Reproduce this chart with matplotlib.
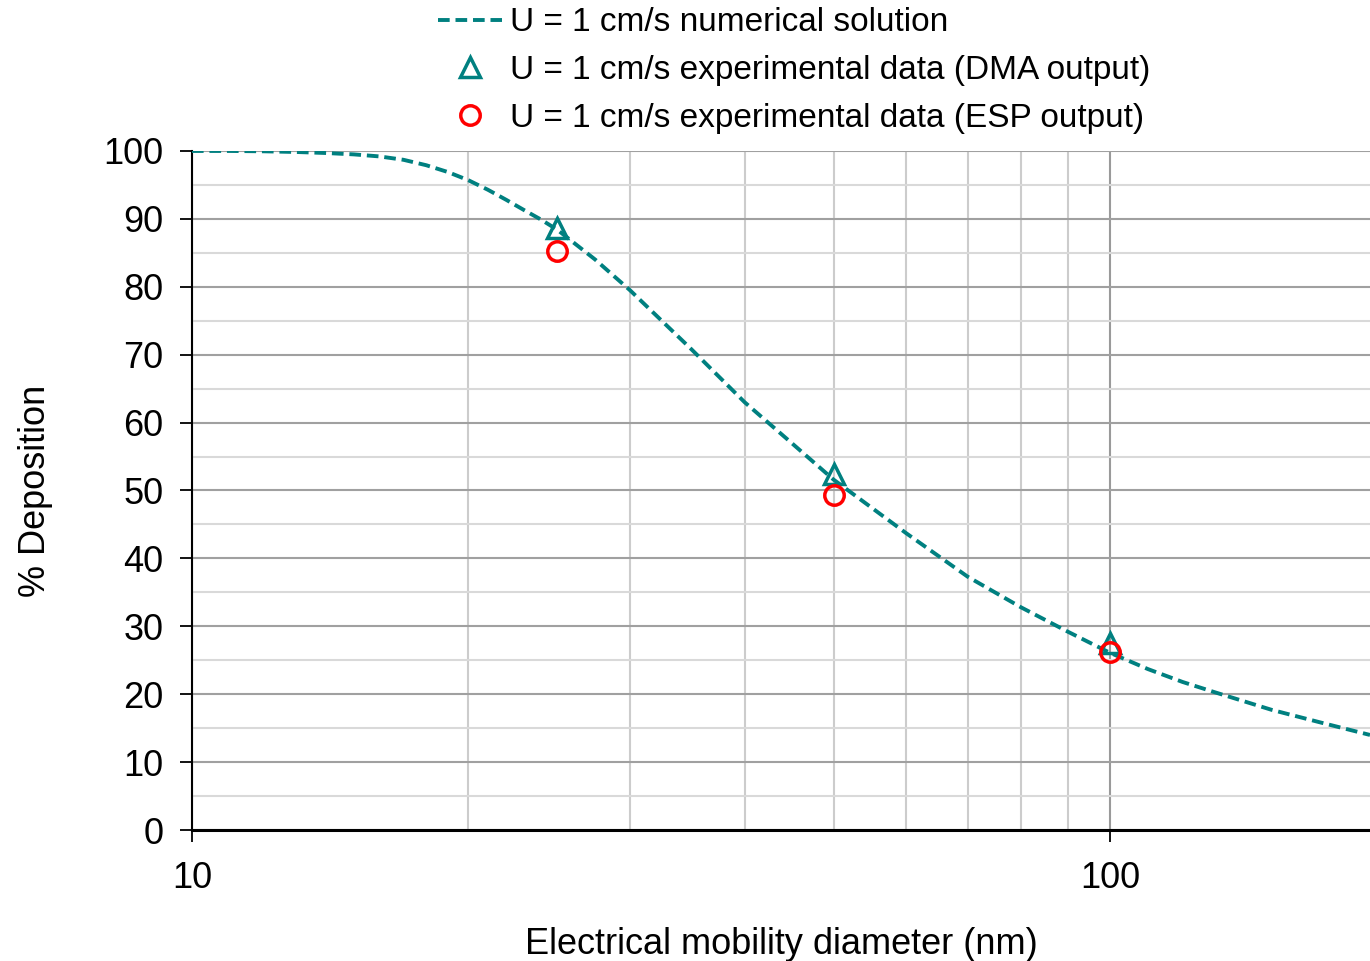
import numpy as np
import matplotlib.pyplot as plt
from matplotlib.ticker import FixedLocator, NullFormatter, FixedFormatter

plt.rcParams['font.family'] = ['Liberation Sans', 'DejaVu Sans']

# numerical solution, U = 1 cm/s
d_num = [10, 11, 12, 13, 14, 15, 16, 17, 18, 19, 20, 21, 22, 23, 24, 25, 27.5, 30, 35,
         40, 45, 50, 60, 70, 80, 90, 100, 110, 120, 130, 150, 170, 192]
dep_num = [100, 100, 99.95, 99.85, 99.7, 99.5, 99.2, 98.7, 97.9, 96.9, 95.7, 94.3, 92.8,
           91.3, 89.9, 88.4, 84.0, 79.5, 70.8, 63.0, 57.0, 51.6, 43.7, 37.3, 32.8, 29.2,
           26.1, 23.7, 21.8, 20.3, 17.7, 15.8, 14.0]

# experimental points
d_exp = [25, 50, 100]
dep_dma = [88.7, 52.4, 27.5]
dep_esp = [85.2, 49.3, 26.2]

teal = '#008080'

fig = plt.figure(figsize=(13.7, 9.61), dpi=100)
ax = fig.add_axes([0.1401, 0.1363, 0.8599, 0.7066])

ax.plot(d_num, dep_num, color=teal, lw=2.8, linestyle=(0, (3, 1.5)),
        label='U = 1 cm/s numerical solution', zorder=3)
ax.plot(d_exp, dep_dma, linestyle='none', marker='^', ms=14, mfc='none',
        mec=teal, mew=2.5, label='U = 1 cm/s experimental data (DMA output)', zorder=4)
ax.plot(d_exp, dep_esp, linestyle='none', marker='o', ms=14, mfc='none',
        mec='#ff0000', mew=2.5, label='U = 1 cm/s experimental data (ESP output)', zorder=5)

ax.set_xscale('log')
ax.set_xlim(10, 192)
ax.set_ylim(0, 100)

ax.xaxis.set_major_locator(FixedLocator([10, 100]))
ax.xaxis.set_major_formatter(FixedFormatter(['10', '100']))
ax.xaxis.set_minor_locator(FixedLocator([20, 30, 40, 50, 60, 70, 80, 90]))
ax.xaxis.set_minor_formatter(NullFormatter())
ax.yaxis.set_major_locator(FixedLocator(range(0, 101, 10)))
ax.yaxis.set_minor_locator(FixedLocator(range(5, 100, 10)))

ax.grid(which='major', axis='y', color='#a0a0a0', lw=1.5)
ax.grid(which='minor', axis='y', color='#d9d9d9', lw=1.5)
ax.grid(which='major', axis='x', color='#9a9a9a', lw=1.5)
ax.grid(which='minor', axis='x', color='#cccccc', lw=1.5)
ax.set_axisbelow(True)

for s in ['top', 'right']:
    ax.spines[s].set_visible(False)
ax.spines['left'].set_linewidth(1.5)
ax.spines['bottom'].set_linewidth(2.2)

ax.tick_params(which='major', direction='out', length=8.6, width=1.3, labelsize=26)
ax.tick_params(axis='y', which='major', pad=12)
ax.tick_params(axis='x', which='major', pad=14)
ax.tick_params(which='minor', length=0)

ax.set_xlabel('Electrical mobility diameter (nm)', fontsize=26, labelpad=22)
ax.set_ylabel('% Deposition', fontsize=26, labelpad=36)

fig.legend(loc='upper left', bbox_to_anchor=(0.298, 1.0235), frameon=False,
           fontsize=24, handlelength=1.9, handletextpad=0.25, labelspacing=0.5)

fig.savefig('out.png', dpi=100)
